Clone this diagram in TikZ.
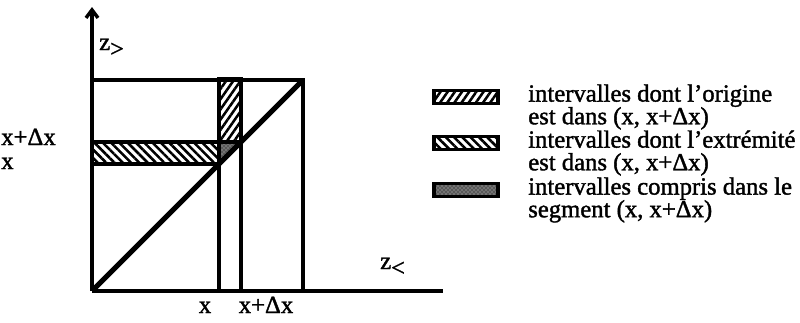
\documentclass[tikz,border=0pt]{standalone}
\usepackage{fontspec}
\setmainfont{Liberation Serif}[FakeBold=1.5]
\usetikzlibrary{arrows.meta, patterns, patterns.meta, positioning}

\tikzset{
  axis/.style={line width=2.6pt},
  grid line/.style={line width=2.6pt},
  lbl/.style={font=\fontsize{18.5}{17}\selectfont, inner sep=0pt},
  legtext/.style={lbl, align=left, anchor=west},
  legbox/.style={draw, line width=2.6pt, minimum width=48pt, minimum height=10pt, inner sep=0pt},
  origine/.style={pattern={Lines[angle=55, distance=4.4pt, line width=1.9pt]}},
  extremite/.style={pattern={Lines[angle=-45, distance=4.4pt, line width=1.9pt]}},
  compris/.style={preaction={fill=black!55}, pattern=crosshatch dots}
}

\begin{document}
\begin{tikzpicture}[x=0.75pt, y=-0.75pt]
  \useasboundingbox (0,0) rectangle (800,322);

  % points of the square
  \coordinate (O)   at (92,291);
  \coordinate (top) at (92,7);
  \coordinate (end) at (443,291);
  \coordinate (tl)  at (92,80);
  \coordinate (tr)  at (303,80);
  \coordinate (br)  at (303,291);
  \coordinate (xa)  at (219,291);
  \coordinate (xb)  at (241,291);
  \coordinate (xat) at (219,79);
  \coordinate (xbt) at (241,79);
  \coordinate (ya)  at (92,164);
  \coordinate (yb)  at (92,142);
  \coordinate (da)  at (219,164);
  \coordinate (db)  at (241,142);
  \coordinate (dc)  at (219,142);

  % hatched regions
  \fill[origine] (xat) rectangle (db);
  \fill[extremite] (yb) rectangle (da);
  \fill[compris] (da) -- (dc) -- (db) -- cycle;

  % axes
  \draw[axis, -{Straight Barb[length=6pt, width=9pt, line width=2.6pt]}] (O) -- (top);
  \draw[axis] (O) -- (end);

  % square and strips
  \draw[grid line] (tl) -- (tr) -- (br);
  \draw[grid line] (xa) -- (xat) -- (xbt) -- (xb);
  \draw[grid line] (yb) -- (db);
  \draw[grid line] (ya) -- (da);
  \draw[line width=3.8pt] (O) -- (tr);

  % axis labels
  \node[lbl, anchor=base west] (zsup) at (99,50) {z\lower5pt\hbox{\fontsize{18}{17}\selectfont >}};
  \node[lbl, anchor=base west] (zinf) at (380,269) {z\lower5pt\hbox{\fontsize{18}{17}\selectfont <}};
  \node[lbl, anchor=base west] (lyb) at (1,145) {x+Δx};
  \node[lbl, anchor=base west] (lya) at (1,169) {x};
  \node[lbl, anchor=base] (lxa) at (205,313) {x};
  \node[lbl, anchor=base] (lxb) at (266,313) {x+Δx};

  % legend
  \node[legbox, origine]   (b1) at (466,97)  {};
  \node[legbox, extremite] (b2) at (466,143) {};
  \node[legbox, compris]   (b3) at (466,190) {};
  \node[legtext] (t1) at (528,107) {intervalles dont l'origine\\est dans (x, x+Δx)};
  \node[legtext] (t2) at (528,153) {intervalles dont l'extrémité\\est dans (x, x+Δx)};
  \node[legtext] (t3) at (528,200) {intervalles compris dans le\\segment (x, x+Δx)};
\end{tikzpicture}
\end{document}
